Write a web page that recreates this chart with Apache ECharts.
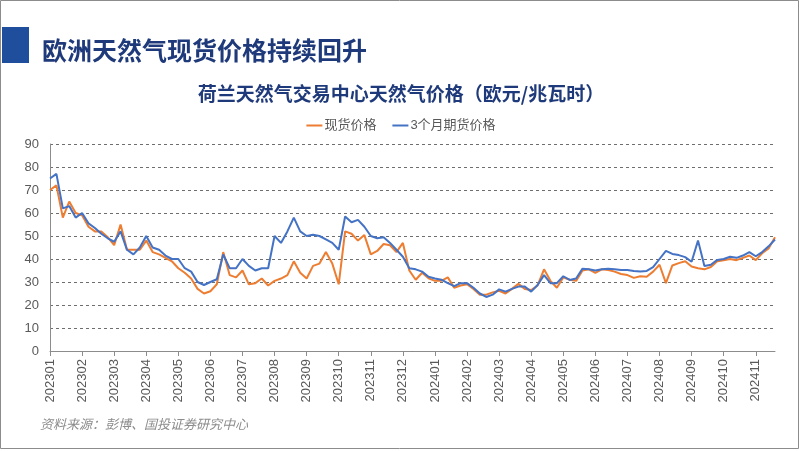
<!DOCTYPE html>
<html>
<head>
<meta charset="utf-8">
<script src="https://cdn.jsdelivr.net/npm/echarts@6/dist/echarts.min.js"></script>
<style>html,body{margin:0;padding:0;background:#fff}#c{width:802px;height:451px}</style>
</head>
<body>
<div id="c"></div>
<script>
// months shown on the axis and sample days inside each month
var months = ['202301','202302','202303','202304','202305','202306','202307','202308','202309','202310','202311','202312',
              '202401','202402','202403','202404','202405','202406','202407','202408','202409','202410','202411'];
var sampleDays = ['01','07','13','19','25'];

// 现货价格 (spot)
var spot = [70,72,58,65,60,59,54,52,52,49.5,46,55,44,44,44,48,43,42,40.5,39,36,34,31.5,
            27,25,26,29,43,33,32,35,29,29.5,31.5,28.5,30.5,31.5,33,39,34,31.5,37,38,43,38,29,
            52,51,48,50.4,42,43.5,46.5,46,43,47,35,31,34,31.6,30.5,30.5,32,27.5,28.5,29,27,24.5,
            24.5,25.5,26.2,25,27,29.2,27,26.5,28.5,35.5,30.5,27.5,32,31,30.5,35,35.5,34,35.5,35.2,34.5,33.5,33,
            31.8,32.5,32.3,34.5,37.5,29.5,37.2,38.2,39,36.7,36,35.5,36.5,39,39.5,40,39.5,40.5,41.5,39.5,42.5,44.6,49.5];

// 3个月期货价格 (3-month futures)
var futures = [75,77,62,63,58,60,55.5,53.5,51,49,47.5,52,44,42,45,50,45,44,41.5,40,40,36,34.5,
               30,28.7,30,31.2,42,36,36,40,37,35,36,36,50,47,52,58,52,50,50.5,50,48.5,47,44,
               58.5,56,57,54,50,49,49.5,47,44,41,36,35.5,34.5,32.3,31.5,31,29.5,28.2,29.5,29.5,27.5,25,
               23.5,24.5,26.8,25.8,27,28,28,25.8,28.7,33,29.5,29.5,32.5,30.9,31.5,35.8,35.5,35,35.5,35.8,35.5,35.2,35.2,
               34.8,34.6,34.8,36.5,40,43.5,42.2,41.7,40.8,38.8,48,37,37.5,39.6,40,41,40.5,41.5,43,41.2,43,45.5,48.5];

var categories = [];
months.forEach(function (m) { sampleDays.forEach(function (d) { categories.push(m + d); }); });
categories = categories.slice(0, spot.length);

var isMonthStart = function (i) { return i % sampleDays.length === 0; };
var FONT = "'Liberation Sans','Noto Sans CJK SC',sans-serif";

var chart = echarts.init(document.getElementById('c'), null, {renderer: 'canvas'});
chart.setOption({
  animation: false,
  backgroundColor: '#ffffff',
  textStyle: {fontFamily: FONT},
  title: [
    {text: '欧洲天然气现货价格持续回升', left: 37, top: 33,
     textStyle: {fontFamily: "'Noto Sans CJK SC',sans-serif", fontSize: 25, fontWeight: 'bold', color: '#1F3A7A'}},
    {text: '荷兰天然气交易中心天然气价格（欧元/兆瓦时）', left: 'center', top: 79,
     textStyle: {fontFamily: "'Noto Sans CJK SC',sans-serif", fontSize: 19, fontWeight: 'bold', color: '#1F3A7A'}}
  ],
  graphic: [
    {type: 'rect', shape: {x: 0.5, y: 0.5, width: 798, height: 448}, style: {fill: 'none', stroke: '#8C8C8C', lineWidth: 1}, silent: true},
    {type: 'rect', shape: {x: 2, y: 27, width: 27, height: 36}, style: {fill: '#1F4E9C'}, silent: true},
    {type: 'text', left: 40, top: 418, style: {text: '资料来源：彭博、国投证券研究中心', fill: '#8C8C8C',
      font: "italic 13px 'Noto Sans CJK SC',sans-serif"}, silent: true}
  ],
  legend: {
    top: 114, left: 'center',
    itemWidth: 16, itemHeight: 2, itemGap: 16, icon: 'rect',
    textStyle: {fontSize: 13, color: '#595959', padding: [0, 0, 0, -3]},
    data: ['现货价格', '3个月期货价格']
  },
  grid: {left: 50, right: 27, top: 144, bottom: 100, containLabel: false},
  xAxis: {
    type: 'category', data: categories, boundaryGap: false,
    axisLine: {lineStyle: {color: '#8C8C8C', width: 1}},
    axisTick: {show: true, interval: function (i) { return isMonthStart(i); }, length: 5, lineStyle: {color: '#8C8C8C'}},
    axisLabel: {rotate: 90, interval: function (i) { return isMonthStart(i); }, margin: 8,
      fontSize: 13, color: '#595959',
      formatter: function (v) { return v.slice(0, 6); }},
    splitLine: {show: false}
  },
  yAxis: {
    type: 'value', min: 0, max: 90, interval: 10,
    axisLine: {show: true, lineStyle: {color: '#8C8C8C', width: 1}},
    axisTick: {show: false},
    axisLabel: {fontSize: 13, color: '#595959', margin: 11},
    splitLine: {show: true, lineStyle: {color: '#6E6E6E', type: [3, 3], width: 1}}
  },
  series: [
    {name: '现货价格', type: 'line', data: spot, showSymbol: false, symbol: 'none',
     lineStyle: {color: '#ED7D31', width: 2}, itemStyle: {color: '#ED7D31'}},
    {name: '3个月期货价格', type: 'line', data: futures, showSymbol: false, symbol: 'none',
     lineStyle: {color: '#4472C4', width: 2}, itemStyle: {color: '#4472C4'}}
  ]
});
</script>
</body>
</html>
